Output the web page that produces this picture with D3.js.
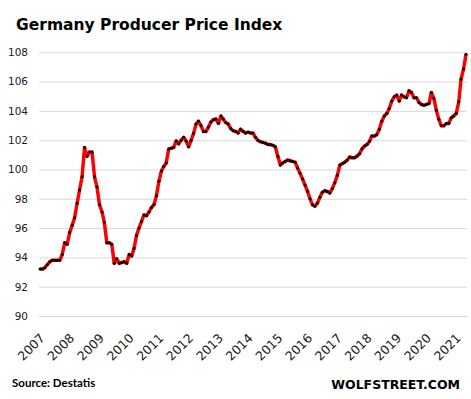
<!DOCTYPE html>
<html>
    <head>
        <meta charset="utf-8">
        <title>Germany Producer Price Index</title>
        <script src="https://d3js.org/d3.v7.min.js"></script>
        <style>
            body { margin: 0; background: white; }
        </style>
    </head>
    <body>
        <script>
            // monthly index values, Jan 2007 .. May 2021
            let ppiValues = [
                93.2, 93.2, 93.3, 93.5, 93.7, 93.8, 93.8, 93.8, 93.8, 94.2, 95.0, 94.9,              // 2007
                95.7, 96.2, 96.7, 97.7, 98.6, 99.5, 101.5, 100.9, 101.2, 101.2, 99.5, 98.8,          // 2008
                97.6, 97.1, 96.4, 95.0, 95.0, 94.9, 93.6, 93.9, 93.6, 93.65, 93.7, 93.6,             // 2009
                94.2, 94.1, 94.6, 95.5, 96.0, 96.45, 96.9, 96.85, 97.1, 97.4, 97.6, 98.2,            // 2010
                99.2, 99.9, 100.2, 100.45, 101.4, 101.45, 101.5, 101.95, 101.75, 102.0, 102.2, 101.95, // 2011
                101.55, 102.0, 102.45, 103.1, 103.3, 103.0, 102.6, 102.6, 102.9, 103.25, 103.4, 103.45, // 2012
                103.15, 103.65, 103.45, 103.2, 103.1, 102.8, 102.65, 102.6, 102.5, 102.75, 102.6, 102.5, // 2013
                102.55, 102.5, 102.5, 102.2, 102.0, 101.9, 101.85, 101.8, 101.7, 101.7, 101.65, 101.55, // 2014
                100.9, 100.3, 100.45, 100.55, 100.65, 100.6, 100.55, 100.5, 100.1, 99.75, 99.35, 98.95, // 2015
                98.5, 98.0, 97.6, 97.5, 97.7, 98.1, 98.45, 98.55, 98.5, 98.4, 98.7, 99.1,            // 2016
                99.6, 100.3, 100.4, 100.5, 100.63, 100.85, 100.8, 100.8, 100.92, 101.08, 101.42, 101.6, // 2017
                101.7, 101.93, 102.29, 102.29, 102.38, 102.75, 103.3, 103.66, 103.82, 104.16, 104.67, 104.96, // 2018
                105.08, 104.67, 105.08, 104.96, 104.9, 105.37, 105.26, 104.9, 104.9, 104.58, 104.44, 104.39, // 2019
                104.44, 104.5, 105.26, 104.85, 104.05, 103.43, 102.98, 102.98, 103.14, 103.14, 103.53, 103.66, // 2020
                103.82, 104.62, 106.17, 106.86, 107.86                                                // 2021
            ]
            let firstMonth = new Date(2007, 0, 1)
            let yearLabels = [2007, 2008, 2009, 2010, 2011, 2012, 2013, 2014, 2015, 2016, 2017, 2018, 2019, 2020, 2021]
            let yTicks = [90, 92, 94, 96, 98, 100, 102, 104, 106, 108]

            let w = 471
            let h = 399

            let data = ppiValues.map((v, i) => {
                return [d3.timeMonth.offset(firstMonth, i), v]
            })

            let xScale = d3.scaleTime()
            .domain([data[0][0], data[data.length - 1][0]])
            .range([40, 466])

            let yScale = d3.scaleLinear()
            .domain([90, 108])
            .range([316, 52.3])

            let svg = d3.select("body")
            .append("svg")
            .attr("width", w)
            .attr("height", h)
            .style("background-color", "white")

            svg.append("text")
            .attr("x", 16)
            .attr("y", 30)
            .attr("font-family", "DejaVu Sans")
            .attr("font-weight", "bold")
            .attr("font-size", "15.5px")
            .attr("fill", "#000")
            .text("Germany Producer Price Index")

            // grid + y labels
            const yAxis = d3.axisLeft(yScale)
            .tickValues(yTicks)
            .tickSize(-428)
            .tickPadding(11)

            let gy = svg.append("g")
            .attr("transform", "translate(39, 0)")
            .call(yAxis)
            gy.select(".domain").remove()
            gy.selectAll("line").attr("stroke", "#d9d9d9").attr("stroke-width", 1)
            gy.selectAll("text")
            .attr("font-family", "DejaVu Sans")
            .attr("font-size", "10.5px")
            .attr("fill", "#1a1a1a")

            // year labels
            const xAxis = d3.axisBottom(xScale)
            .tickValues(yearLabels.map(y => new Date(y, 0, 1)))
            .tickSize(0)
            .tickFormat(d3.timeFormat("%Y"))

            let gx = svg.append("g")
            .call(xAxis)
            gx.select(".domain").remove()
            gx.selectAll("text")
            .attr("font-family", "DejaVu Sans")
            .attr("font-size", "12.5px")
            .attr("fill", "#1a1a1a")
            .attr("text-anchor", "end")
            .attr("dy", 0)
            .attr("y", 0)
            .attr("transform", "translate(5, 339) rotate(-45)")

            let line = d3.line()
            .x(d => xScale(d[0]))
            .y(d => yScale(d[1]))

            svg.append("path")
            .datum(data)
            .attr("d", line)
            .attr("fill", "none")
            .attr("stroke", "#ff0000")
            .attr("stroke-width", 3.5)
            .attr("stroke-linejoin", "round")

            svg.selectAll("circle.pt")
            .data(data)
            .enter()
            .append("circle")
            .attr("class", "pt")
            .attr("cx", d => xScale(d[0]))
            .attr("cy", d => yScale(d[1]))
            .attr("r", 1.5)
            .attr("fill", "#000")

            svg.append("text")
            .attr("x", 12)
            .attr("y", 387)
            .attr("font-family", "Lato")
            .attr("font-weight", "bold")
            .attr("font-size", "11.5px")
            .attr("fill", "#000")
            .text("Source: Destatis")

            svg.append("text")
            .attr("x", 460)
            .attr("y", 389)
            .attr("text-anchor", "end")
            .attr("font-family", "DejaVu Sans")
            .attr("font-weight", "bold")
            .attr("font-size", "12.5px")
            .attr("fill", "#000")
            .text("WOLFSTREET.COM")
        </script>
    </body>
</html>
